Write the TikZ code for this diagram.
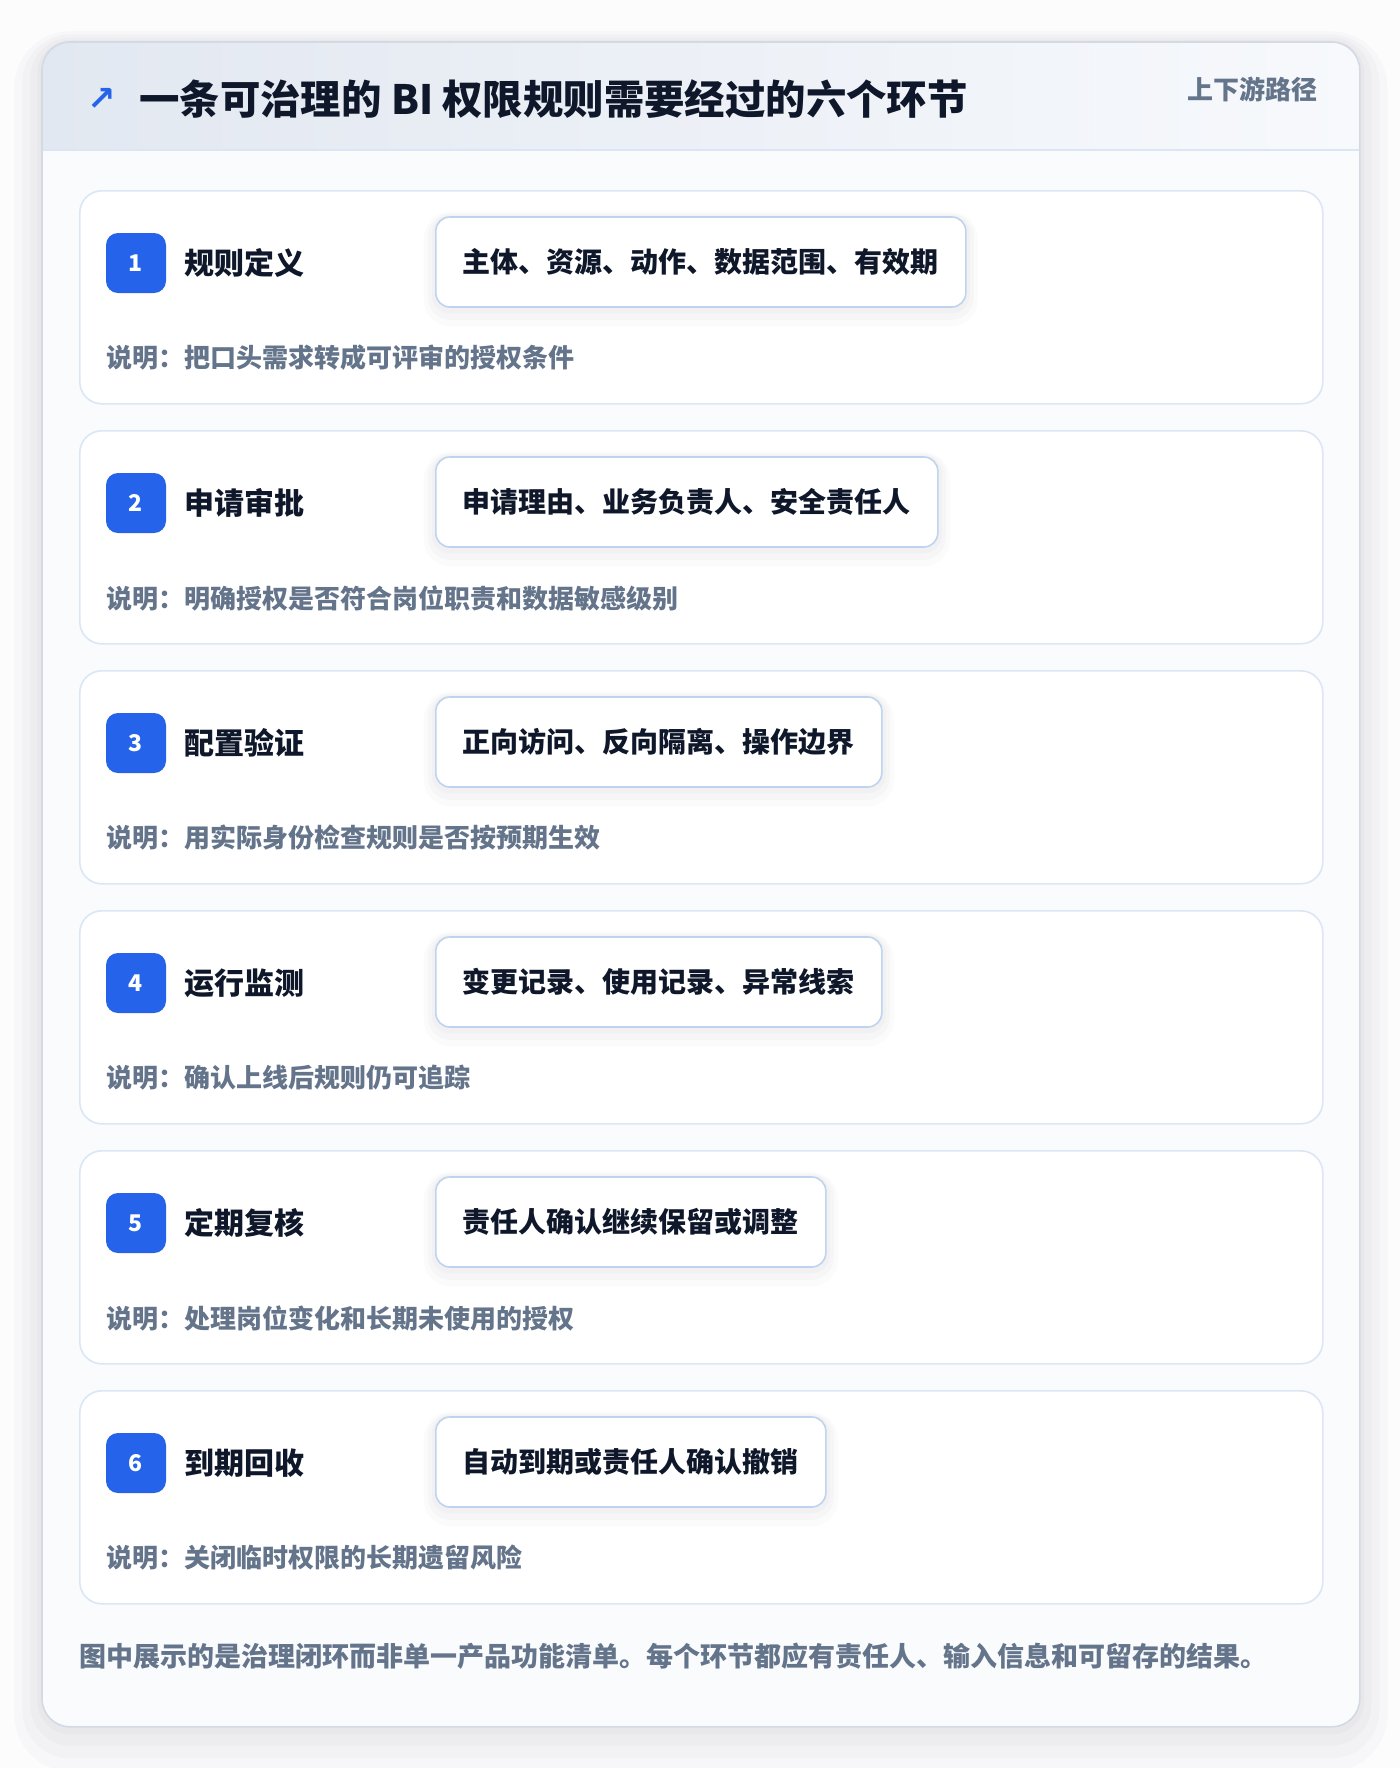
\documentclass[tikz,border=0pt]{standalone}
\usepackage{fontspec}
\setmainfont{Noto Sans CJK SC}
\newfontfamily\symfont{DejaVu Sans}
\usetikzlibrary{positioning}
\definecolor{pagebg}{HTML}{FCFCFD}
\definecolor{innerbg}{HTML}{F9FBFD}
\definecolor{frameline}{HTML}{D3DAE4}
\definecolor{hdleft}{HTML}{E2E8F1}
\definecolor{hdright}{HTML}{F7F9FC}
\definecolor{hdline}{HTML}{DCE6F3}
\definecolor{cardline}{HTML}{DCE7F5}
\definecolor{tagline}{HTML}{BFD3EE}
\definecolor{badgeblue}{HTML}{2563EB}
\definecolor{titletext}{HTML}{0F172A}
\definecolor{descgray}{HTML}{64748B}
\definecolor{shadowc}{HTML}{1E293B}
\begin{document}
\begin{tikzpicture}[x=0.5pt,y=-0.5pt,
  halo/.style 2 args={preaction={draw=shadowc,line width=#1,opacity=#2,transform canvas={yshift=-0.3*#1}}},
  frame/.style={fill=innerbg,rounded corners=14pt,minimum width=658.5pt,minimum height=842pt,anchor=north west,inner sep=0pt,
    halo={28pt}{0.018},halo={20pt}{0.02},halo={12pt}{0.022},halo={5pt}{0.025}},
  card/.style={draw=cardline,line width=0.8pt,fill=white,rounded corners=11pt,minimum width=621.5pt,minimum height=106.5pt,anchor=north west,inner sep=0pt},
  badge/.style={fill=badgeblue,rounded corners=6pt,minimum size=30pt,inner sep=0pt,text=white,font=\bfseries\fontsize{11.5}{13}\selectfont},
  stepname/.style={anchor=west,inner sep=0pt,text=titletext,font=\bfseries\fontsize{15}{18}\selectfont},
  tagbox/.style={draw=tagline,line width=0.8pt,fill=white,rounded corners=7pt,anchor=west,minimum height=45pt,inner xsep=13.5pt,inner ysep=0pt,
    text=titletext,font=\bfseries\fontsize{14}{17}\selectfont,
    halo={12pt}{0.015},halo={8pt}{0.018},halo={4pt}{0.02}},
  desc/.style={anchor=west,inner sep=0pt,text=descgray,font=\bfseries\fontsize{13}{16}\selectfont}]
\useasboundingbox[fill=pagebg] (0,0) rectangle (1400,1768);
\node[frame] (frame) at (42,42) {};
% header band
\begin{scope}
\clip[rounded corners=14pt] (frame.north west) rectangle (frame.south east);
\fill[left color=hdleft,right color=hdright] (42,42) rectangle (1359,150);
\end{scope}
\draw[hdline,line width=1pt] (42,150) -- (1359,150);
\draw[frameline,line width=0.8pt,rounded corners=14pt] (frame.north west) rectangle (frame.south east);
\node[inner sep=0pt,text=badgeblue,font=\symfont\bfseries\fontsize{17}{20}\selectfont] (icon) at (102,99) {↗};
\node[anchor=west,inner sep=0pt,text=titletext,font=\bfseries\fontsize{20.2}{24}\selectfont] (title) at (139,99) {一条可治理的 BI 权限规则需要经过的六个环节};
\node[anchor=east,inner sep=0pt,text=descgray,font=\bfseries\fontsize{13}{16}\selectfont] (route) at (1318,89) {上下游路径};
% six steps
\foreach \i/\name/\tag/\expl in {
  1/规则定义/{主体、资源、动作、数据范围、有效期}/把口头需求转成可评审的授权条件,
  2/申请审批/{申请理由、业务负责人、安全责任人}/明确授权是否符合岗位职责和数据敏感级别,
  3/配置验证/{正向访问、反向隔离、操作边界}/用实际身份检查规则是否按预期生效,
  4/运行监测/{变更记录、使用记录、异常线索}/确认上线后规则仍可追踪,
  5/定期复核/{责任人确认继续保留或调整}/处理岗位变化和长期未使用的授权,
  6/到期回收/{自动到期或责任人确认撤销}/关闭临时权限的长期遗留风险} {
  \pgfmathsetmacro\ytop{190+240*(\i-1)}
  \node[card] (card\i) at (79,\ytop) {};
  \node[badge] (badge\i) at (136,\ytop+73) {\i};
  \node[stepname] (name\i) at (184,\ytop+73) {\name};
  \node[tagbox] (tag\i) at (435,\ytop+72) {\tag};
  \node[desc] (expl\i) at (106,\ytop+168) {说明：\expl};
}
\node[desc,font=\bfseries\fontsize{13.5}{16}\selectfont] (note) at (79,1656) {图中展示的是治理闭环而非单一产品功能清单。每个环节都应有责任人、输入信息和可留存的结果。};
\end{tikzpicture}
\end{document}
